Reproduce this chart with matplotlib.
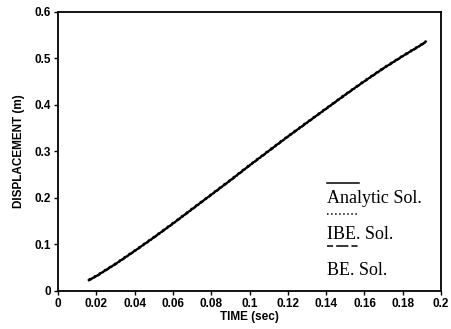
import matplotlib.pyplot as plt

# time (sec)
time = [0.016, 0.02, 0.03, 0.04, 0.05, 0.06, 0.07, 0.08, 0.09, 0.10,
        0.11, 0.12, 0.13, 0.14, 0.15, 0.16, 0.17, 0.18, 0.19, 0.192]

# displacement (m)
analytic = [0.023, 0.032, 0.058, 0.086, 0.115, 0.145, 0.176, 0.207, 0.238, 0.270,
            0.301, 0.332, 0.362, 0.392, 0.422, 0.451, 0.479, 0.505, 0.530, 0.536]
ibe = [0.024, 0.033, 0.059, 0.087, 0.116, 0.146, 0.177, 0.208, 0.239, 0.271,
       0.302, 0.333, 0.363, 0.393, 0.423, 0.452, 0.480, 0.506, 0.531, 0.537]
be = [0.022, 0.031, 0.057, 0.085, 0.114, 0.144, 0.175, 0.206, 0.237, 0.269,
      0.300, 0.331, 0.361, 0.391, 0.421, 0.450, 0.478, 0.504, 0.529, 0.535]

xticks = [0, 0.02, 0.04, 0.06, 0.08, 0.1, 0.12, 0.14, 0.16, 0.18, 0.2]
xlabels = ['0', '0.02', '0.04', '0.06', '0.08', '0.1', '0.12', '0.14', '0.16', '0.18', '0.2']
yticks = [0, 0.1, 0.2, 0.3, 0.4, 0.5, 0.6]
ylabels = ['0', '0.1', '0.2', '0.3', '0.4', '0.5', '0.6']

legend_names = ['Analytic Sol.', 'IBE. Sol.', 'BE. Sol.']
legend_styles = ['-', ':', (0, (4, 2, 8, 2))]

fig = plt.figure(figsize=(4.51, 3.29), dpi=100)
ax = fig.add_axes([0.129, 0.116, 0.849, 0.848])

ax.plot(time, analytic, color='black', lw=1.6, ls='-')
ax.plot(time, ibe, color='black', lw=1.6, ls=':')
ax.plot(time, be, color='black', lw=1.4, ls=(0, (2, 1, 1, 1)))

ax.set_xlim(0, 0.2)
ax.set_ylim(0, 0.6)

ax.set_xticks(xticks)
ax.set_xticklabels(xlabels)
ax.set_yticks(yticks)
ax.set_yticklabels(ylabels)

tick_font = dict(family='Liberation Sans', weight='bold', size=8.5)
label_font = dict(family='Liberation Sans', weight='bold', size=8.5)
for lab in ax.get_xticklabels() + ax.get_yticklabels():
    lab.set_fontproperties(tick_font)
ax.tick_params(direction='out', length=3, width=1, pad=2)

ax.set_xlabel('TIME (sec)', fontdict=label_font, labelpad=1)
ax.set_ylabel('DISPLACEMENT (m)', fontdict=label_font, labelpad=7)

for sp in ax.spines.values():
    sp.set_linewidth(1.3)

# legend drawn by hand: line above each label
line_y = [0.388, 0.275, 0.162]
text_y = [0.332, 0.202, 0.072]
for name, st, ly, ty in zip(legend_names, legend_styles, line_y, text_y):
    ax.plot([0.702, 0.786], [ly, ly], transform=ax.transAxes, color='black', lw=1.1, ls=st)
    ax.text(0.702, ty, name, transform=ax.transAxes, family='Liberation Serif',
            fontsize=13, va='center', ha='left')

fig.savefig('out.png', dpi=100)
